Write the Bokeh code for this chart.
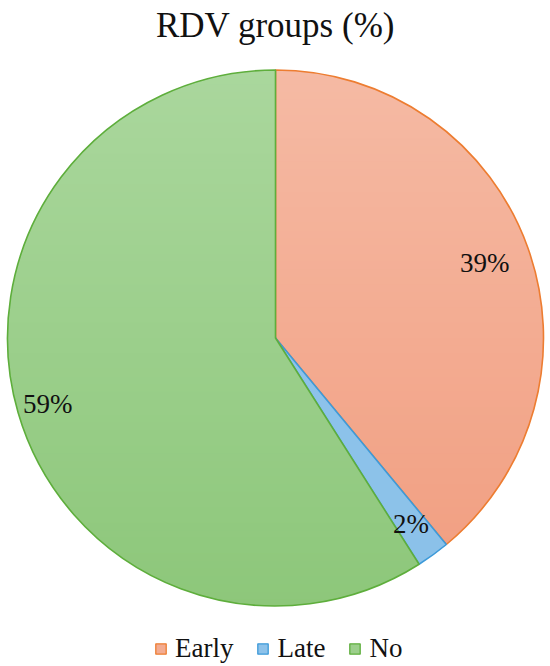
import numpy as np
from bokeh.plotting import figure
from bokeh.models import Range1d, Legend, LegendItem
from bokeh.core.properties import value
from bokeh.embed import file_html
from bokeh.resources import INLINE

# ---- data ----
categories = ["Early", "Late", "No"]
percentages = [39, 2, 59]
labels = ["39%", "2%", "59%"]
title_text = "RDV groups (%)"

# ---- styles ----
fill_top = ["#F5BAA4", "#8FC4EB", "#AAD79D"]
fill_bottom = ["#F19D7F", "#8BC1E9", "#8DC77A"]
line_colors = ["#ED7D31", "#3D9AD9", "#5EAE3C"]
label_r_frac = [0.83, 0.86, 0.885]
FONT = "'Liberation Serif', 'Times New Roman', serif"

W, H = 550, 666
cx, cy, R = 275.0, 328.5, 268.0

p = figure(width=W, height=H, output_backend="svg", toolbar_location=None,
           x_range=Range1d(0, W), y_range=Range1d(0, H), min_border=0,
           outline_line_color=None)
p.axis.visible = False
p.grid.visible = False

vals = np.array(percentages, dtype=float)
frac = vals / vals.sum()
ends = np.cumsum(frac) * 2 * np.pi
starts = ends - frac * 2 * np.pi


def wedge_poly(a0, a1, n=400):
    t = np.linspace(a0, a1, n)
    xs = np.concatenate([[cx], cx + R * np.sin(t)])
    ys = np.concatenate([[cy], cy + R * np.cos(t)])
    return list(zip(xs, ys))


def clip(poly, y0, keep_above):
    out = []
    n = len(poly)
    for i in range(n):
        P = poly[i]
        Q = poly[(i + 1) % n]
        inP = (P[1] >= y0) if keep_above else (P[1] <= y0)
        inQ = (Q[1] >= y0) if keep_above else (Q[1] <= y0)
        if inP:
            out.append(P)
        if inP != inQ:
            tt = (y0 - P[1]) / (Q[1] - P[1])
            out.append((P[0] + tt * (Q[0] - P[0]), y0))
    return out


def hex2rgb(h):
    h = h.lstrip("#")
    return np.array([int(h[i:i + 2], 16) for i in (0, 2, 4)], dtype=float)


def rgb2hex(c):
    return "#%02x%02x%02x" % tuple(int(round(v)) for v in c)


nb = 70
edges = np.linspace(cy + R + 1, cy - R - 1, nb + 1)
for i, cat in enumerate(categories):
    poly = wedge_poly(starts[i], ends[i])
    c0, c1 = hex2rgb(fill_top[i]), hex2rgb(fill_bottom[i])
    bx, by, bc = [], [], []
    for b in range(nb):
        ytop = edges[b]
        ybot = edges[b + 1] - 1.2
        q = clip(poly, ybot, True)
        if len(q) < 3:
            continue
        q = clip(q, ytop, False)
        if len(q) < 3:
            continue
        f = ((cy + R) - 0.5 * (edges[b] + edges[b + 1])) / (2 * R)
        bx.append([pt[0] for pt in q])
        by.append([pt[1] for pt in q])
        bc.append(rgb2hex(c0 + (c1 - c0) * f))
    p.patches(xs=bx, ys=by, fill_color=bc, line_color=None)
    # wedge outline (clockwise from 12 o'clock)
    p.wedge(x=cx, y=cy, radius=R,
            start_angle=np.pi / 2 - ends[i], end_angle=np.pi / 2 - starts[i],
            fill_alpha=0.0, line_color=line_colors[i], line_width=1.6)

# legend proxy glyphs (filled squares)
leg_renderers = []
for i, cat in enumerate(categories):
    mid = rgb2hex((hex2rgb(fill_top[i]) + hex2rgb(fill_bottom[i])) / 2)
    lr = p.rect(x=[-100], y=[-100], width=1, height=1, fill_color=mid,
                line_color=line_colors[i], line_width=1.3)
    leg_renderers.append(lr)

# percentage labels
mids = (starts + ends) / 2
lx = [cx + label_r_frac[i] * R * np.sin(mids[i]) for i in range(3)]
ly = [cy + label_r_frac[i] * R * np.cos(mids[i]) for i in range(3)]
p.text(x=lx, y=ly, text=labels, text_font=value(FONT), text_font_size="27px",
       text_align="center", text_baseline="middle", text_color="#111111")

# title
p.text(x=[W / 2], y=[H - 25], text=[title_text], text_font=value(FONT),
       text_font_size="35px", text_align="center", text_baseline="middle",
       text_color="#111111")

legend = Legend(items=[LegendItem(label=categories[i], renderers=[leg_renderers[i]])
                       for i in range(3)],
                orientation="horizontal", location=(154, 2),
                label_text_font=FONT, label_text_font_size="27px",
                label_text_color="#111111",
                glyph_width=13, glyph_height=13, label_standoff=8, spacing=23,
                padding=0, margin=0, border_line_alpha=0, background_fill_alpha=0,
                label_height=26)
p.add_layout(legend)

open("out.html", "w").write(file_html(p, INLINE))
